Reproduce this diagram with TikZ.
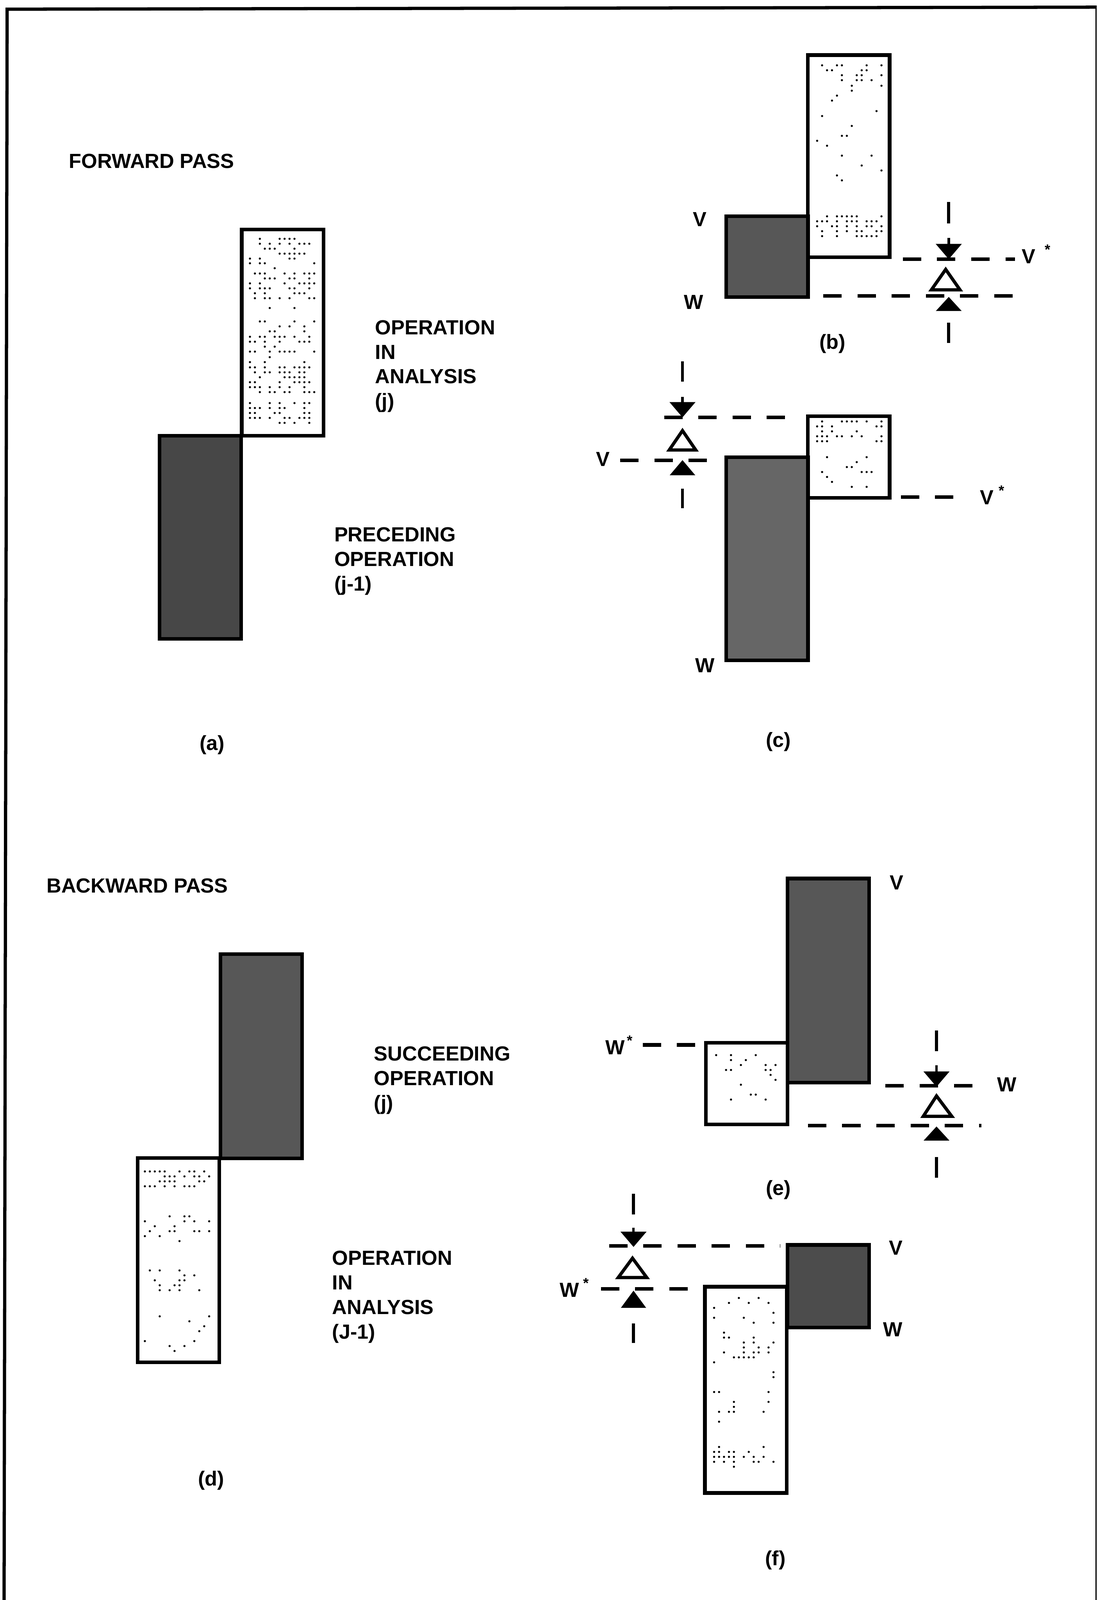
\documentclass[tikz,border=0pt]{standalone}
\usepackage{fontspec}
\setmainfont{Liberation Sans}
\usetikzlibrary{arrows.meta}
\newcommand{\speckle}[5]{%
\foreach \ii in {0,...,#3}{\foreach \jj in {0,...,#4}{%
\pgfmathrandominteger{\dieval}{1}{100}%
\ifnum\dieval<#5
\fill[black] ({#1+4.85*\ii},{#2+4.85*\jj}) circle (0.3pt);
\fi}}}
\tikzset{
opbox/.style={draw=black, line width=1pt, minimum width=0.8cm, inner sep=0pt, outer sep=0pt},
lightbox/.style={opbox, fill=white},
darkbox/.style={opbox, fill=black!66},
lab/.style={font=\fontsize{5.7}{6.85}\selectfont\bfseries, inner sep=0pt, align=left},
dashline/.style={black, line width=1pt, dash pattern=on 0.18cm off 0.155cm},
tickline/.style={black, line width=0.85pt},
stemline/.style={black, line width=0.7pt, -{Triangle[length=0.15cm,width=0.25cm]}},
opentri/.style={black, line width=0.9pt, line join=miter},
}
\begin{document}
\begin{tikzpicture}[x=0.01cm,y=-0.01cm]
\useasboundingbox (0,0) rectangle (1075,1568);
% frame
\draw[black, line width=0.9pt] (4,1568) -- (7,9) -- (1075,7);
\draw[black, line width=0.3pt] (1074.5,7) -- (1074.5,1568);

% forward pass
\node[lab, anchor=west] (fwd) at (67,158) {FORWARD PASS};
\node[lightbox, minimum height=2.02cm] (alight) at (277,326) {};
\node[darkbox, fill=black!72, minimum height=1.99cm] (adark) at (196.5,526.5) {};
\node[lab, anchor=north west] (aop) at (367,313) {OPERATION\\IN\\ANALYSIS\\(j)};
\node[lab, anchor=north west] (aprev) at (327,516) {PRECEDING\\OPERATION\\(j-1)};
\node[lab] (acap) at (208,730) {(a)};
\speckle{245}{234}{13}{4}{50}
\speckle{245}{258}{13}{1}{15}
\speckle{245}{268}{13}{5}{48}
\speckle{245}{297}{13}{2}{10}
\speckle{245}{315}{13}{2}{18}
\speckle{245}{330}{13}{3}{40}
\speckle{245}{350}{13}{1}{8}
\speckle{245}{360}{13}{5}{58}
\speckle{245}{395}{13}{4}{42}

% (b)
\node[lightbox, minimum height=1.98cm] (blight) at (832,153) {};
\node[darkbox, minimum height=0.79cm] (bdark) at (752,251.5) {};
\node[lab] (bv) at (686,215) {V};
\node[lab] (bw) at (680,296) {W};
\node[lab, anchor=west] (bvs) at (1001,249) {V\hspace{0.09cm}\textsuperscript{*}};
\node[lab] (bcap) at (816,337) {(b)};
\speckle{801}{64}{13}{3}{26}
\speckle{801}{84}{13}{3}{12}
\speckle{801}{104}{13}{16}{7}
\speckle{801}{212}{13}{4}{45}
\coordinate (bva) at (885,254);
\coordinate (bvb) at (995,254);
\coordinate (bwa) at (807,290);
\coordinate (bwb) at (1002,290);
\coordinate (bin) at (930,233);
\coordinate (btip) at (930,254);
\draw[dashline] (bva) -- (bvb);
\draw[dashline] (bwa) -- (bwb);
\draw[stemline] (bin) -- (btip);
\draw[tickline] (930,198) -- (930,219);
\draw[opentri, fill=white] (927,264) -- (913,284) -- (941,284) -- cycle;
\filldraw[black] (930,292) -- (919,304) -- (941,304) -- cycle;
\draw[tickline] (930,316) -- (930,336);

% (c)
\node[lightbox, minimum height=0.8cm] (clight) at (832,448) {};
\node[darkbox, fill=black!60, minimum height=1.99cm] (cdark) at (752,547.5) {};
\node[lab] (cv) at (591,450) {V};
\node[lab, anchor=west] (cvs) at (960,485) {V\hspace{0.05cm}\textsuperscript{*}};
\node[lab] (cw) at (691,652) {W};
\node[lab] (ccap) at (763,727) {(c)};
\speckle{801}{413}{13}{4}{35}
\speckle{801}{448}{13}{6}{16}
\coordinate (cva) at (651,409);
\coordinate (cvb) at (780,409);
\coordinate (cwa) at (608,451);
\coordinate (cwb) at (700,451);
\coordinate (cra) at (883,487);
\coordinate (crb) at (948,487);
\coordinate (cin) at (669,389);
\coordinate (ctip) at (669,409);
\draw[dashline] (cva) -- (cvb);
\draw[dashline] (cwa) -- (cwb);
\draw[dashline] (cra) -- (crb);
\draw[stemline] (cin) -- (ctip);
\draw[tickline] (669,354) -- (669,374);
\draw[opentri, fill=white] (669,422) -- (656,441) -- (682,441) -- cycle;
\filldraw[black] (669,452) -- (658,465) -- (680,465) -- cycle;
\draw[tickline] (669,479) -- (669,498);

% backward pass
\node[lab, anchor=west] (bwd) at (45,868) {BACKWARD PASS};
\node[darkbox, minimum height=2cm] (ddark) at (256,1035) {};
\node[lightbox, minimum height=2cm] (dlight) at (175,1235) {};
\node[lab, anchor=north west] (dnext) at (366,1025) {SUCCEEDING\\OPERATION\\(j)};
\node[lab, anchor=north west] (dop) at (325,1225) {OPERATION\\IN\\ANALYSIS\\(J-1)};
\node[lab] (dcap) at (207,1451) {(d)};
\speckle{142}{1148}{13}{3}{45}
\speckle{142}{1192}{13}{5}{22}
\speckle{142}{1245}{13}{4}{26}
\speckle{142}{1290}{13}{8}{8}

% (e)
\node[darkbox, minimum height=2cm] (edark) at (812,961) {};
\node[lightbox, minimum height=0.8cm] (elight) at (732,1062) {};
\node[lab] (ev) at (879,865) {V};
\node[lab, anchor=west] (ews) at (593,1024) {W\hspace{0.02cm}\textsuperscript{*}};
\node[lab] (ew) at (987,1063) {W};
\node[lab] (ecap) at (763,1166) {(e)};
\speckle{702}{1034}{12}{5}{26}
\speckle{702}{1063}{12}{5}{6}
\coordinate (ela) at (630,1024);
\coordinate (elb) at (684,1024);
\coordinate (eva) at (868,1064);
\coordinate (evb) at (968,1064);
\coordinate (ewa) at (792,1103);
\coordinate (ewb) at (962,1103);
\coordinate (ein) at (918,1044);
\coordinate (etip) at (918,1065);
\draw[dashline] (ela) -- (elb);
\draw[dashline] (eva) -- (evb);
\draw[dashline] (ewa) -- (ewb);
\draw[stemline] (ein) -- (etip);
\draw[tickline] (918,1010) -- (918,1030);
\draw[opentri, fill=white] (918,1074) -- (905,1094) -- (933,1094) -- cycle;
\filldraw[black] (918,1105) -- (907,1117) -- (929,1117) -- cycle;
\draw[tickline] (918,1134) -- (918,1154);

% (f)
\node[darkbox, fill=black!70, minimum height=0.81cm] (fdark) at (812,1260.5) {};
\node[lightbox, minimum height=2.02cm] (flight) at (731,1362) {};
\node[lab] (fv) at (878,1223) {V};
\node[lab] (fw) at (875,1303) {W};
\node[lab, anchor=west] (fws) at (548,1262) {W\hspace{0.04cm}\textsuperscript{*}};
\node[lab] (fcap) at (760,1529) {(f)};
\speckle{700}{1272}{12}{26}{13}
\speckle{700}{1418}{12}{4}{28}
\coordinate (fva) at (597,1221);
\coordinate (fvb) at (765,1221);
\coordinate (fwa) at (589,1263);
\coordinate (fwb) at (688,1263);
\coordinate (fin) at (621,1203);
\coordinate (ftip) at (621,1222);
\draw[dashline] (fva) -- (fvb);
\draw[dashline] (fwa) -- (fwb);
\draw[stemline] (fin) -- (ftip);
\draw[tickline] (621,1170) -- (621,1190);
\draw[opentri, fill=white] (620,1233) -- (606,1252) -- (634,1252) -- cycle;
\filldraw[black] (621,1266) -- (610,1281) -- (632,1281) -- cycle;
\draw[tickline] (621,1297) -- (621,1316);
\end{tikzpicture}
\end{document}
